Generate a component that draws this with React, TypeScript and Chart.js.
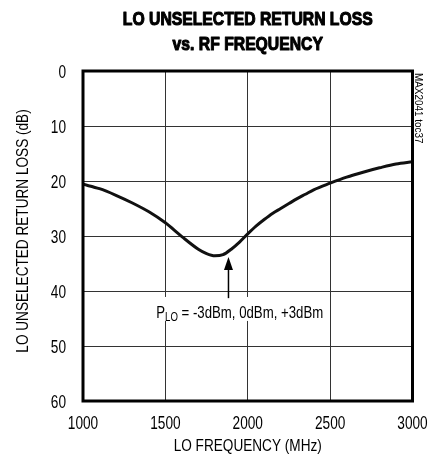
import React, { useEffect, useRef } from "react";
import { Chart, registerables } from "chart.js";

Chart.register(...registerables);

// ---- data ----
const frequencyMHz = [1000, 1100, 1200, 1300, 1400, 1500, 1600, 1700, 1750, 1800, 1850, 1900, 1950, 2000, 2050, 2100, 2150, 2200, 2250, 2300, 2350, 2400, 2500, 2600, 2700, 2800, 2900, 3000];
const returnLossDB = [20.6, 21.4, 22.6, 24.0, 25.6, 27.6, 30.1, 32.4, 33.2, 33.6, 33.4, 32.4, 31.1, 29.6, 28.2, 27.0, 25.9, 25.0, 24.1, 23.2, 22.4, 21.6, 20.4, 19.3, 18.4, 17.6, 16.9, 16.5];
const xTickValues = [1000, 1500, 2000, 2500, 3000];
const yTickValues = [0, 10, 20, 30, 40, 50, 60];
const titleLines = ["LO UNSELECTED RETURN LOSS", "vs. RF FREQUENCY"];
const xAxisTitle = "LO FREQUENCY (MHz)";
const yAxisTitle = "LO UNSELECTED RETURN LOSS (dB)";
const sideLabel = "MAX2041 toc37";
// annotation anchors (data coordinates)
const arrowTip = [1883, 33.8];
const arrowTail = [1883, 41.3];
const noteLeft = [1445, 44.9]; // left edge / baseline of the note text
const noteParts = ["P", "LO", " = -3dBm, 0dBm, +3dBm"];

const FONT = "'Liberation Sans', Arial, Helvetica, sans-serif";

function drawText(
  ctx: CanvasRenderingContext2D,
  text: string,
  x: number,
  y: number,
  opts: { size: number; weight?: string; sx?: number; align?: CanvasTextAlign; baseline?: CanvasTextBaseline; rotate?: number; stroke?: number }
) {
  ctx.save();
  ctx.translate(x, y);
  if (opts.rotate) ctx.rotate(opts.rotate);
  ctx.scale(opts.sx ?? 0.8, 1);
  ctx.font = `${opts.weight ?? "normal"} ${opts.size}px ${FONT}`;
  ctx.textAlign = opts.align ?? "left";
  ctx.textBaseline = opts.baseline ?? "alphabetic";
  ctx.fillStyle = "#000";
  ctx.fillText(text, 0, 0);
  if (opts.stroke) {
    ctx.strokeStyle = "#000";
    ctx.lineWidth = opts.stroke;
    ctx.lineJoin = "round";
    ctx.strokeText(text, 0, 0);
  }
  ctx.restore();
}

function textWidth(ctx: CanvasRenderingContext2D, text: string, size: number, sx: number) {
  ctx.save();
  ctx.font = `normal ${size}px ${FONT}`;
  const w = ctx.measureText(text).width * sx;
  ctx.restore();
  return w;
}

const textPlugin = {
  id: "textAndFrame",
  afterDatasetsDraw(chart: any) {
    const { ctx, chartArea, scales } = chart;
    const xs = scales.x;
    const ys = scales.y;
    const cxMid = (chartArea.left + chartArea.right) / 2;
    ctx.save();

    // frame
    ctx.strokeStyle = "#000";
    ctx.lineWidth = 3;
    ctx.strokeRect(chartArea.left, chartArea.top, chartArea.right - chartArea.left, chartArea.bottom - chartArea.top);

    // title
    drawText(ctx, titleLines[0], cxMid, 25, { size: 18.5, weight: "bold", sx: 0.85, align: "center", stroke: 1.1 });
    drawText(ctx, titleLines[1], cxMid, 50, { size: 18.5, weight: "bold", sx: 0.85, align: "center", stroke: 1.1 });

    // x tick labels
    xTickValues.forEach((v) => {
      drawText(ctx, String(v), xs.getPixelForValue(v), chartArea.bottom + 28, { size: 17.5, sx: 0.78, align: "center" });
    });
    // y tick labels
    yTickValues.forEach((v) => {
      drawText(ctx, String(v), chartArea.left - 17, ys.getPixelForValue(v) + 7, { size: 17.5, sx: 0.78, align: "right" });
    });

    // axis titles
    drawText(ctx, xAxisTitle, cxMid, 451, { size: 17, sx: 0.8, align: "center" });
    drawText(ctx, yAxisTitle, 27.5, 231, { size: 17, sx: 0.8, align: "center", rotate: -Math.PI / 2 });

    // note with white background
    const nx = xs.getPixelForValue(noteLeft[0]);
    const ny = ys.getPixelForValue(noteLeft[1]);
    const wP = textWidth(ctx, noteParts[0], 16.5, 0.8);
    const wSub = textWidth(ctx, noteParts[1], 12, 0.8);
    const wRest = textWidth(ctx, noteParts[2], 16.5, 0.8);
    const total = wP + wSub + wRest;
    ctx.fillStyle = "#fff";
    ctx.fillRect(nx - 3, ny - 21, total + 6, 24);
    drawText(ctx, noteParts[0], nx, ny, { size: 16.5, sx: 0.8 });
    drawText(ctx, noteParts[1], nx + wP, ny + 3.5, { size: 12, sx: 0.8 });
    drawText(ctx, noteParts[2], nx + wP + wSub, ny, { size: 16.5, sx: 0.8 });

    // arrow
    const ax = xs.getPixelForValue(arrowTip[0]);
    const ay = ys.getPixelForValue(arrowTip[1]);
    const by = ys.getPixelForValue(arrowTail[1]);
    ctx.strokeStyle = "#000";
    ctx.fillStyle = "#000";
    ctx.lineWidth = 1.5;
    ctx.beginPath();
    ctx.moveTo(ax, ay + 10);
    ctx.lineTo(ax, by);
    ctx.stroke();
    ctx.beginPath();
    ctx.moveTo(ax, ay);
    ctx.lineTo(ax - 4.5, ay + 13);
    ctx.lineTo(ax + 4.5, ay + 13);
    ctx.closePath();
    ctx.fill();

    // side label
    drawText(ctx, sideLabel, chartArea.right + 6, chartArea.top + 2, { size: 11, sx: 0.9, baseline: "middle", rotate: Math.PI / 2 });

    ctx.restore();
  },
};

export default function App() {
  const ref = useRef<HTMLCanvasElement | null>(null);
  useEffect(() => {
    if (!ref.current) return;
    const points = frequencyMHz.map((f, i) => ({ x: f, y: returnLossDB[i] }));
    const chart = new Chart(ref.current, {
      type: "line",
      data: {
        datasets: [
          {
            data: points,
            borderColor: "#111",
            borderWidth: 3,
            pointRadius: 0,
            cubicInterpolationMode: "monotone",
            fill: false,
          },
        ],
      },
      options: {
        responsive: false,
        animation: false,
        devicePixelRatio: 1,
        layout: { padding: { left: 0, right: 15.5, top: 71, bottom: 0 } },
        plugins: {
          legend: { display: false },
          tooltip: { enabled: false },
          title: { display: false },
        },
        scales: {
          x: {
            type: "linear",
            min: 1000,
            max: 3000,
            afterBuildTicks: (s: any) => {
              s.ticks = xTickValues.map((v) => ({ value: v }));
            },
            afterFit: (s: any) => {
              s.height = 60;
            },
            grid: { color: "#333", lineWidth: 1, drawTicks: false },
            border: { display: false },
            ticks: { display: false },
          },
          y: {
            type: "linear",
            min: 0,
            max: 60,
            reverse: true,
            afterBuildTicks: (s: any) => {
              s.ticks = yTickValues.map((v) => ({ value: v }));
            },
            afterFit: (s: any) => {
              s.width = 83;
            },
            grid: { color: "#333", lineWidth: 1, drawTicks: false },
            border: { display: false },
            ticks: { display: false },
          },
        },
      },
      plugins: [textPlugin],
    });
    return () => chart.destroy();
  }, []);
  return (
    <div style={{ position: "fixed", left: 0, top: 0, width: 428, height: 461, background: "#fff" }}>
      <canvas ref={ref} width={428} height={461} style={{ display: "block" }} />
    </div>
  );
}
